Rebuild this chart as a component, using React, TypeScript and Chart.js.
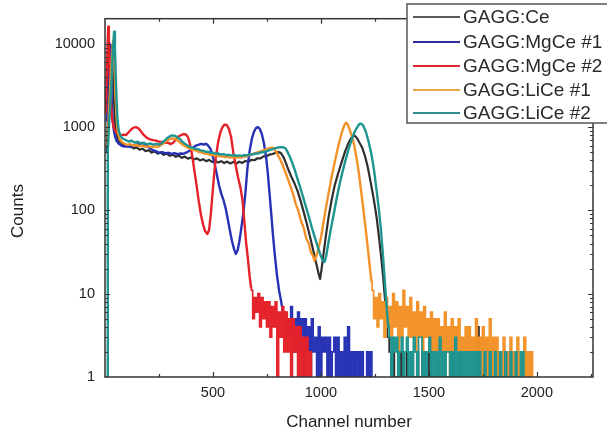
import React, { useEffect, useRef } from "react";
import { Chart, registerables } from "chart.js";

Chart.register(...registerables);

const seriesNames = ["GAGG:Ce", "GAGG:MgCe #1", "GAGG:MgCe #2", "GAGG:LiCe #1", "GAGG:LiCe #2"];
const seriesColors = ["#2f2f2f", "#2631b4", "#e5222a", "#f39229", "#1e9590"];
const legendColors = ["#5a5a5a", "#2c2f9a", "#d9282d", "#eaa547", "#2b8f8b"];
const xTickLabels = [500, 1000, 1500, 2000];
const yTickLabels = [1, 10, 100, 1000, 10000];
const xMax = 2260;
const yMax = 20000;
const tailStep = 8;

// GAGG:Ce  [channel, counts]
const ceMain = [
  [8, 500], [14, 1500], [20, 4000], [26, 8000], [30, 9500], [34, 6000], [40, 2500], [46, 1200], [52, 850], [60, 720],
  [68, 670], [78, 640], [90, 600], [104, 585], [118, 600], [132, 555], [146, 570], [160, 535], [174, 550], [188, 515],
  [202, 528], [216, 495], [230, 510], [244, 480], [258, 495], [272, 465], [286, 480], [300, 452], [314, 466], [328, 440],
  [342, 455], [356, 428], [370, 442], [384, 418], [398, 432], [412, 408], [426, 422], [440, 398], [454, 412], [468, 390],
  [482, 404], [496, 382], [510, 396], [524, 375], [538, 390], [552, 370], [566, 385], [580, 366], [594, 382], [608, 365],
  [622, 384], [636, 372], [650, 392], [664, 384], [678, 405], [692, 400], [706, 422], [720, 420], [734, 445], [748, 445],
  [762, 468], [776, 475], [790, 492], [802, 500], [814, 490], [826, 440], [838, 370], [850, 305], [864, 250], [878, 210],
  [892, 170], [906, 130], [920, 96], [934, 70], [948, 50], [960, 37], [972, 27], [982, 21], [990, 17], [996, 15],
  [1002, 19], [1012, 30], [1024, 52], [1036, 85], [1050, 135], [1064, 200], [1080, 280], [1096, 380], [1112, 510], [1126, 630],
  [1140, 740], [1153, 800], [1166, 745], [1180, 640], [1192, 560], [1204, 450], [1216, 340], [1230, 220], [1244, 140], [1258, 82],
  [1270, 45], [1280, 26], [1288, 16], [1296, 9], [1304, 5],
];
const ceTailStart = 1312;
const ceTail = [
  3, 2, 1, 2, 1, 1, 2, 1, 2, 1, 1, 2, 1, 1, 2, 1, 1, 2, 1, 1, 2, 1, 1, 1, 2, 1, 1, 1, 2, 1,
  1, 1, 2, 1, 1, 1, 1, 2, 1, 1, 1, 1, 2, 1, 1, 1, 1, 2, 1, 1, 1, 1, 4, 1, 1, 1, 1, 2, 1, 1,
  1, 1, 1, 2, 1, 1, 1, 1, 1, 1, 1, 2, 1, 1,
];

// GAGG:MgCe #1
const mgCe1Main = [
  [8, 1200], [13, 4000], [18, 8000], [22, 10000], [26, 6000], [30, 2500], [35, 1300], [40, 950], [46, 780],
  [54, 680], [64, 630], [76, 600], [90, 582], [104, 592], [118, 575], [132, 600], [146, 615], [160, 635], [172, 645],
  [184, 625], [196, 590], [210, 555], [224, 525], [238, 510], [252, 492], [266, 500], [280, 484], [294, 492], [308, 476],
  [322, 486], [336, 472], [350, 482], [364, 478], [378, 498], [392, 520], [406, 560], [420, 598], [432, 612], [444, 628],
  [456, 618], [468, 630], [478, 600], [488, 550], [498, 460], [508, 360], [518, 270], [528, 200], [538, 160], [548, 135],
  [558, 108], [568, 80], [578, 58], [588, 43], [598, 34], [606, 30], [614, 33], [622, 42], [630, 58], [640, 90],
  [650, 160], [660, 330], [670, 520], [680, 720], [690, 880], [700, 980], [708, 1000], [716, 960], [726, 830], [736, 640],
  [746, 440], [754, 280], [762, 160], [770, 90], [778, 50], [786, 30], [796, 17], [806, 11], [816, 8], [824, 6],
];
const mgCe1TailStart = 832;
const mgCe1Tail = [
  6, 3, 5, 3, 7, 2, 5, 2, 6, 2, 5, 1, 5, 2, 4, 1, 5, 2, 3, 1, 4, 1, 3, 2, 3, 1, 3, 1, 2, 3,
  1, 3, 1, 2, 1, 3, 1, 4, 1, 2, 1, 2, 1, 2, 1, 2, 1, 1, 2, 1, 2, 1,
];

// GAGG:MgCe #2
const mgCe2Main = [
  [4, 1500], [8, 4000], [12, 10000], [15, 16000], [18, 10000], [22, 4500], [26, 2200], [32, 1300], [40, 1000],
  [50, 880], [60, 830], [72, 800], [84, 812], [96, 800], [108, 860], [120, 930], [132, 985], [144, 1000], [156, 960],
  [168, 880], [180, 800], [194, 745], [208, 712], [222, 698], [236, 688], [250, 668], [264, 662], [278, 648], [292, 650],
  [304, 625], [316, 648], [328, 712], [340, 770], [352, 800], [364, 825], [374, 818], [384, 760], [394, 620], [404, 450],
  [414, 300], [424, 200], [434, 130], [444, 90], [454, 68], [464, 56], [474, 52], [482, 58], [490, 90], [498, 160],
  [506, 280], [514, 450], [524, 660], [534, 860], [544, 1000], [554, 1070], [564, 1060], [574, 950], [584, 760], [594, 500],
  [604, 360], [616, 250], [628, 185], [637, 130], [646, 70], [654, 40], [662, 26], [670, 16], [676, 12],
];
const mgCe2TailStart = 680;
const mgCe2Tail = [
  11, 5, 9, 6, 10, 4, 9, 5, 8, 4, 8, 3, 7, 4, 8, 1, 6, 3, 7, 2, 6, 2, 5, 1, 5, 2, 4, 1, 4, 1,
  3, 1, 3, 1, 2, 1,
];

// GAGG:LiCe #1
const liCe1Main = [
  [12, 600], [18, 1500], [24, 3000], [30, 6000], [36, 10000], [40, 11000], [44, 6000], [48, 2500], [54, 1200],
  [60, 850], [68, 720], [78, 660], [90, 630], [104, 612], [118, 622], [132, 598], [146, 610], [160, 588], [174, 600],
  [188, 580], [202, 592], [216, 575], [230, 588], [244, 578], [256, 600], [268, 630], [280, 665], [292, 700], [304, 725],
  [316, 732], [328, 715], [340, 680], [352, 640], [364, 605], [376, 580], [388, 558], [400, 545], [412, 528], [424, 520],
  [436, 500], [448, 498], [460, 482], [472, 482], [484, 466], [496, 468], [508, 455], [520, 458], [532, 445], [544, 446],
  [556, 436], [568, 440], [580, 430], [592, 436], [604, 428], [616, 436], [628, 430], [640, 442], [652, 442], [664, 458],
  [676, 462], [688, 480], [700, 488], [712, 505], [724, 515], [736, 530], [748, 545], [760, 555], [770, 565], [780, 560],
  [790, 520], [800, 465], [812, 405], [824, 345], [836, 285], [848, 235], [860, 190], [872, 155], [884, 118], [896, 98],
  [908, 74], [920, 62], [932, 46], [944, 40], [954, 31], [962, 29], [970, 25], [978, 28], [986, 33], [994, 40],
  [1002, 50], [1014, 78], [1026, 118], [1038, 175], [1050, 255], [1062, 360], [1074, 500], [1086, 680], [1098, 880], [1108, 1050],
  [1116, 1130], [1124, 1080], [1134, 920], [1144, 760], [1154, 610], [1164, 440], [1174, 300], [1186, 173], [1198, 95], [1210, 52],
  [1220, 30], [1228, 19], [1234, 14],
];
const liCe1TailStart = 1240;
const liCe1Tail = [
  11, 5, 9, 4, 10, 5, 8, 3, 9, 4, 7, 3, 10, 4, 8, 2, 7, 3, 11, 4, 7, 3, 9, 3, 6, 2, 8, 3, 6, 2,
  7, 3, 5, 2, 6, 2, 5, 1, 5, 2, 4, 1, 6, 2, 4, 1, 5, 2, 4, 1, 5, 2, 3, 1, 4, 2, 4, 1, 3, 1,
  5, 2, 3, 1, 4, 1, 3, 1, 5, 1, 3, 1, 3, 1, 2, 1, 3, 1, 2, 1, 3, 1, 2, 1, 3, 1, 2, 1, 3, 1,
  2, 1, 2, 1,
];

// GAGG:LiCe #2
const liCe2Main = [
  [2, 1], [12, 1], [13, 500], [18, 1000], [24, 1800], [30, 3500], [36, 8000], [42, 14000], [46, 9000], [50, 4000],
  [54, 2000], [58, 1200], [64, 900], [72, 780], [82, 730], [96, 700], [110, 672], [124, 685], [138, 650], [152, 668],
  [166, 632], [180, 648], [194, 620], [208, 638], [222, 615], [236, 630], [250, 615], [262, 640], [274, 680], [286, 730],
  [298, 770], [310, 795], [322, 790], [334, 760], [346, 720], [358, 670], [370, 630], [382, 600], [394, 575], [406, 565],
  [418, 548], [430, 545], [442, 525], [454, 522], [466, 505], [478, 505], [490, 490], [502, 492], [514, 478], [526, 482],
  [538, 468], [550, 472], [562, 460], [574, 465], [586, 455], [598, 462], [610, 452], [622, 458], [634, 452], [646, 462],
  [658, 458], [670, 470], [682, 468], [694, 482], [706, 480], [718, 495], [730, 498], [742, 512], [754, 518], [766, 535],
  [778, 545], [790, 560], [802, 568], [814, 575], [826, 572], [836, 555], [846, 500], [856, 440], [866, 380], [878, 310],
  [890, 245], [902, 195], [916, 148], [930, 112], [944, 84], [958, 62], [972, 47], [986, 36], [998, 29], [1008, 25],
  [1016, 24], [1024, 28], [1034, 40], [1046, 60], [1060, 92], [1074, 145], [1088, 215], [1100, 290], [1112, 385], [1126, 520],
  [1140, 680], [1153, 840], [1166, 980], [1178, 1090], [1186, 1100], [1196, 1040], [1208, 880], [1220, 680], [1232, 500], [1244, 330],
  [1256, 190], [1268, 105], [1278, 58], [1286, 32], [1293, 18], [1300, 10], [1306, 6], [1312, 4],
];
const liCe2TailStart = 1320;
const liCe2Tail = [
  3, 1, 3, 2, 3, 1, 2, 3, 1, 2, 3, 1, 2, 1, 3, 2, 1, 3, 3, 1, 2, 1, 2, 3, 1, 2, 1, 2, 1, 3,
  1, 2, 1, 2, 2, 1, 2, 1, 3, 1, 2, 1, 2, 1, 2, 1, 2, 1, 2, 1, 2, 1, 2, 1, 1, 2, 1, 1, 2, 1,
  1, 2, 1, 1, 2, 1, 1, 2, 1, 1, 2, 1, 1, 2, 1, 1, 2, 1, 2,
];

const FONT = "'Liberation Sans', Arial, Helvetica, sans-serif";

function mainPoints(main: number[][]) {
  return main.map(([x, y]) => ({ x, y }));
}
function tailPoints(main: number[][], tailStart: number, tail: number[]) {
  const last = main[main.length - 1];
  const pts = [{ x: last[0], y: last[1] }];
  tail.forEach((y, i) => pts.push({ x: tailStart + i * tailStep, y }));
  return pts;
}

const decorPlugin = {
  id: "decor",
  afterDraw(chart: any) {
    const { ctx, chartArea: a, scales } = chart;
    const xs = scales.x;
    const ys = scales.y;
    ctx.save();
    ctx.strokeStyle = "#333";
    ctx.lineWidth = 1.5;
    ctx.strokeRect(a.left, a.top, a.right - a.left, a.bottom - a.top);
    ctx.lineWidth = 1.2;
    ctx.beginPath();
    for (let v = 250; v < xMax; v += 250) {
      const px = Math.round(xs.getPixelForValue(v)) + 0.5;
      const len = v % 500 === 0 ? 5 : 3;
      ctx.moveTo(px, a.bottom);
      ctx.lineTo(px, a.bottom - len);
      ctx.moveTo(px, a.top);
      ctx.lineTo(px, a.top + len);
    }
    for (let d = 1; d <= 10000; d *= 10) {
      for (let k = 1; k <= 9; k++) {
        const v = d * k;
        if (v <= 1 || v >= yMax) continue;
        const py = Math.round(ys.getPixelForValue(v)) + 0.5;
        const len = k === 1 ? 5 : 3;
        ctx.moveTo(a.left, py);
        ctx.lineTo(a.left + len, py);
        ctx.moveTo(a.right, py);
        ctx.lineTo(a.right - len, py);
      }
    }
    ctx.stroke();

    ctx.fillStyle = "#222";
    ctx.font = `17px ${FONT}`;
    ctx.textAlign = "center";
    ctx.textBaseline = "middle";
    ctx.fillText("Channel number", (a.left + a.right) / 2, 422);
    ctx.save();
    ctx.translate(18, 211);
    ctx.rotate(-Math.PI / 2);
    ctx.fillText("Counts", 0, 0);
    ctx.restore();

    const lx = 407;
    const ly = 4;
    ctx.fillStyle = "#ffffff";
    ctx.fillRect(lx, ly, 607 - lx + 5, 123 - ly);
    ctx.strokeStyle = "#555";
    ctx.lineWidth = 1.5;
    ctx.strokeRect(lx, ly, 607 - lx + 5, 123 - ly);
    const rows = [17, 42, 66, 90, 113];
    ctx.font = `19px ${FONT}`;
    ctx.textAlign = "left";
    ctx.textBaseline = "middle";
    seriesNames.forEach((name, i) => {
      ctx.strokeStyle = legendColors[i];
      ctx.lineWidth = 2;
      ctx.beginPath();
      ctx.moveTo(413, rows[i]);
      ctx.lineTo(460, rows[i]);
      ctx.stroke();
      ctx.fillStyle = "#2a2a2a";
      ctx.fillText(name, 463, rows[i] + 1);
    });
    ctx.restore();
  },
};

export default function App() {
  const ref = useRef<HTMLCanvasElement | null>(null);
  useEffect(() => {
    if (!ref.current) return;
    const mains = [ceMain, mgCe1Main, mgCe2Main, liCe1Main, liCe2Main];
    const tails: [number, number[]][] = [
      [ceTailStart, ceTail],
      [mgCe1TailStart, mgCe1Tail],
      [mgCe2TailStart, mgCe2Tail],
      [liCe1TailStart, liCe1Tail],
      [liCe2TailStart, liCe2Tail],
    ];
    const drawOrder = [4, 3, 2, 1, 0];
    const widths = [2.2, 2.4, 2.4, 2.4, 2.4];
    const datasets: any[] = [];
    mains.forEach((main, i) => {
      datasets.push({
        label: seriesNames[i],
        data: mainPoints(main),
        borderColor: seriesColors[i],
        borderWidth: widths[i],
        pointRadius: 0,
        tension: 0,
        fill: false,
        order: drawOrder[i],
        borderJoinStyle: "round",
        borderCapStyle: "round",
      });
      datasets.push({
        label: seriesNames[i] + " tail",
        data: tailPoints(main, tails[i][0], tails[i][1]),
        borderColor: seriesColors[i],
        borderWidth: 1.7,
        pointRadius: 0,
        stepped: "middle",
        fill: false,
        order: drawOrder[i],
        borderJoinStyle: "miter",
      });
    });
    const chart = new Chart(ref.current, {
      type: "line",
      data: { datasets },
      options: {
        animation: false,
        responsive: false,
        events: [],
        layout: { padding: { top: 18, right: 14, left: 0, bottom: 0 } },
        plugins: { legend: { display: false }, tooltip: { enabled: false } },
        scales: {
          x: {
            type: "linear",
            min: 0,
            max: xMax,
            grid: { display: false, drawTicks: false },
            border: { display: false },
            ticks: {
              padding: 7,
              color: "#222",
              font: { family: FONT, size: 14.5 },
              maxRotation: 0,
              autoSkip: false,
              callback: (v: any) => String(v),
            },
            afterBuildTicks: (s: any) => {
              s.ticks = xTickLabels.map((v) => ({ value: v }));
            },
            afterFit: (s: any) => {
              s.height = 60;
            },
          },
          y: {
            type: "logarithmic",
            min: 1,
            max: yMax,
            grid: { display: false, drawTicks: false },
            border: { display: false },
            ticks: {
              padding: 10,
              color: "#222",
              font: { family: FONT, size: 14.5 },
              autoSkip: false,
              callback: (v: any) => String(v),
            },
            afterBuildTicks: (s: any) => {
              s.ticks = yTickLabels.map((v) => ({ value: v }));
            },
            afterFit: (s: any) => {
              s.width = 105;
            },
          },
        },
      },
      plugins: [decorPlugin],
    } as any);
    return () => chart.destroy();
  }, []);
  return (
    <div style={{ position: "fixed", left: 0, top: 0, width: 607, height: 437, background: "#fff" }}>
      <canvas ref={ref} width={607} height={437} style={{ display: "block" }} />
    </div>
  );
}
